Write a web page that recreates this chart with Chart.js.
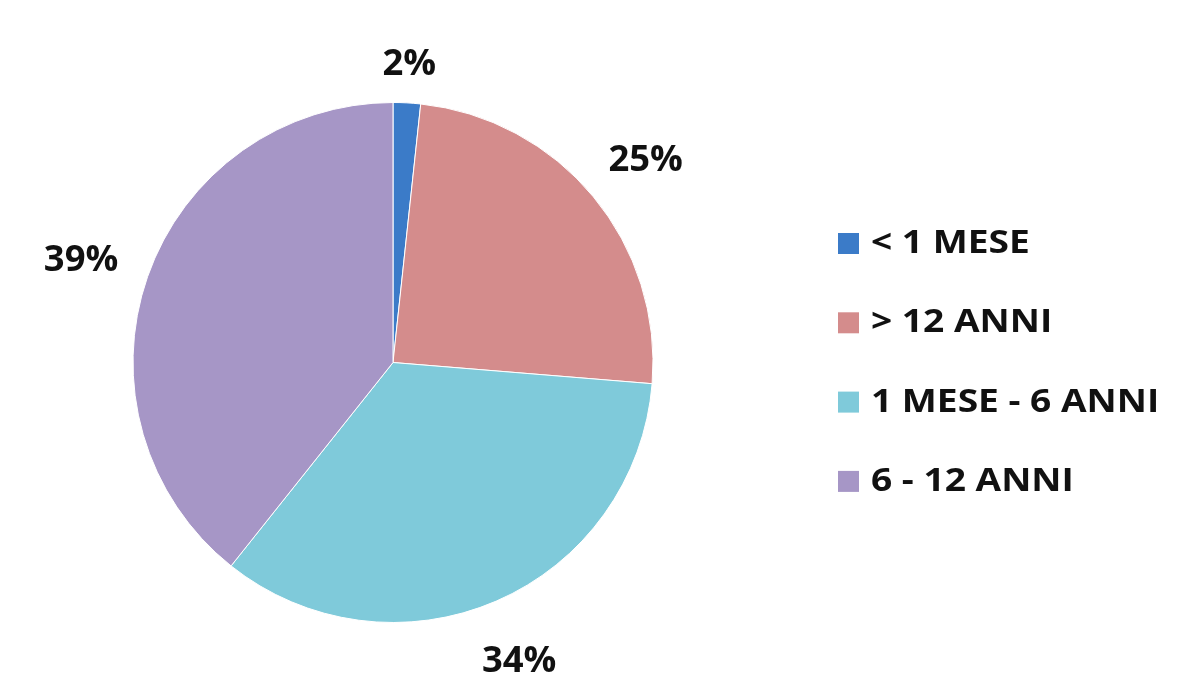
<!DOCTYPE html>
<html>
<head>
<meta charset="utf-8">
<script src="https://cdn.jsdelivr.net/npm/chart.js@4"></script>
<style>
html,body{margin:0;padding:0;background:#fff;}
#wrap{width:1181px;height:698px;position:relative;}
</style>
</head>
<body>
<div id="wrap"><canvas id="c" width="1181" height="698"></canvas></div>
<script>
const categories = ["< 1 MESE", "> 12 ANNI", "1 MESE - 6 ANNI", "6 - 12 ANNI"];
const values = [1.7, 24.6, 34.4, 39.3];
const pctLabels = ["2%", "25%", "34%", "39%"];
const colors = ["#3B7BC8", "#D48C8C", "#7FCADA", "#A696C6"];

const FONT = "'Open Sans', Lato, sans-serif";

const labelPlugin = {
  id: 'outLabels',
  afterDatasetsDraw(chart) {
    const ctx = chart.ctx;
    const meta = chart.getDatasetMeta(0);
    ctx.save();
    ctx.font = "bold 35px " + FONT;
    ctx.fillStyle = "#111";
    ctx.textAlign = "center";
    ctx.textBaseline = "middle";
    meta.data.forEach((arc, i) => {
      const mid = (arc.startAngle + arc.endAngle) / 2;
      const dx = Math.cos(mid), dy = Math.sin(mid);
      const sx = 1.04;
      const a = ctx.measureText(pctLabels[i]).width * sx / 2;
      const b = 13;
      const d = arc.outerRadius + 31 + a * Math.abs(dx) + b * Math.abs(dy);
      ctx.save();
      ctx.translate(arc.x + dx * d, arc.y + dy * d + 8);
      ctx.scale(sx, 1);
      ctx.fillText(pctLabels[i], 0, 0);
      ctx.restore();
    });
    ctx.restore();
  }
};

const legendPlugin = {
  id: 'customLegend',
  afterDraw(chart) {
    const ctx = chart.ctx;
    ctx.save();
    ctx.font = "bold 32px " + FONT;
    ctx.textAlign = "left";
    ctx.textBaseline = "middle";
    const x0 = 838, y0 = 243, step = 79.3;
    categories.forEach((c, i) => {
      const y = y0 + i * step;
      ctx.fillStyle = colors[i];
      ctx.fillRect(x0, y - 10, 21, 21);
      ctx.fillStyle = "#111";
      ctx.save();
      ctx.translate(x0 + 33, y + 1);
      ctx.scale(1.16, 1);
      ctx.fillText(c, 0, 0);
      ctx.restore();
    });
    ctx.restore();
  }
};

new Chart(document.getElementById('c'), {
  type: 'pie',
  data: {
    labels: categories,
    datasets: [{
      data: values,
      backgroundColor: colors,
      borderColor: "#ffffff",
      borderWidth: 1
    }]
  },
  options: {
    responsive: false,
    animation: false,
    layout: { padding: { left: 131, right: 526, top: 102, bottom: 75 } },
    plugins: {
      legend: { display: false },
      tooltip: { enabled: false }
    }
  },
  plugins: [labelPlugin, legendPlugin]
});
</script>
</body>
</html>
